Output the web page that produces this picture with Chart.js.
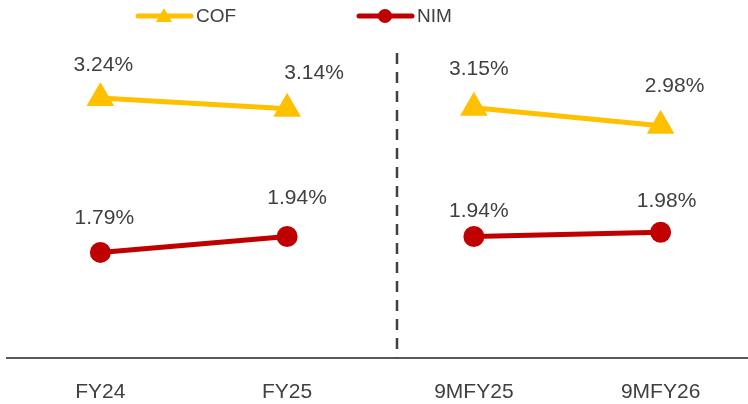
<!DOCTYPE html>
<html>
<head>
<meta charset="utf-8">
<script src="https://cdn.jsdelivr.net/npm/chart.js@4/dist/chart.umd.min.js"></script>
<style>
  html, body { margin: 0; padding: 0; background: #fff; overflow: hidden; }
  /* a few px wider than the window so the last category's half-slot runs off the edge */
  #wrap { width: 754px; height: 404px; position: relative; }
</style>
</head>
<body>
<div id="wrap"><canvas id="rateChart"></canvas></div>
<script>
// === Data ===
const periods = ['FY24', 'FY25', '9MFY25', '9MFY26'];
const cofValues = [3.24, 3.14, 3.15, 2.98];
const nimValues = [1.79, 1.94, 1.94, 1.98];

const COF_COLOR = '#FFC000';
const NIM_COLOR = '#C00000';
const TEXT_COLOR = '#404040';
const FONT = '"Liberation Sans", Arial, sans-serif';

// hand-placed label nudges [dx, dy] per dataset / point
const labelNudge = [
  [[3, -33], [27, -36], [5, -38], [14, -40]],
  [[4, -34], [10, -38], [5, -25], [6, -31]]
];

// no line between FY25 and 9MFY25 (different periods)
const breakSegment = {
  borderColor: ctx => ctx.p0DataIndex === 1 ? 'rgba(0,0,0,0)' : undefined
};

// === Labels, divider and legend ===
const extrasPlugin = {
  id: 'extras',
  afterDatasetsDraw(chart) {
    const ctx = chart.ctx;
    const x = chart.scales.x;
    const area = chart.chartArea;

    // dashed divider between full years and 9M
    const step = x.getPixelForValue(2) - x.getPixelForValue(1);
    const dx = Math.round(x.getPixelForValue(1) + step * 0.59);
    ctx.save();
    ctx.strokeStyle = TEXT_COLOR;
    ctx.lineWidth = 2.5;
    ctx.setLineDash([11, 8]);
    ctx.beginPath();
    ctx.moveTo(dx, 53);
    ctx.lineTo(dx, area.bottom);
    ctx.stroke();
    ctx.restore();

    // value labels
    ctx.save();
    ctx.font = '21px ' + FONT;
    ctx.fillStyle = TEXT_COLOR;
    ctx.textAlign = 'center';
    ctx.textBaseline = 'middle';
    chart.data.datasets.forEach((ds, i) => {
      chart.getDatasetMeta(i).data.forEach((pt, j) => {
        const [nx, ny] = labelNudge[i][j];
        ctx.fillText(ds.data[j].toFixed(2) + '%', pt.x + nx, pt.y + ny);
      });
    });
    ctx.restore();

    // legend: line with marker
    const items = [
      { text: 'COF', color: COF_COLOR, style: 'triangle', x: 138 },
      { text: 'NIM', color: NIM_COLOR, style: 'circle', x: 359 }
    ];
    const ly = 16;
    ctx.save();
    items.forEach(it => {
      ctx.strokeStyle = it.color;
      ctx.fillStyle = it.color;
      ctx.lineWidth = 5;
      ctx.lineCap = 'round';
      ctx.beginPath();
      ctx.moveTo(it.x, ly);
      ctx.lineTo(it.x + 53, ly);
      ctx.stroke();
      const cx = it.x + 26;
      ctx.beginPath();
      if (it.style === 'triangle') {
        ctx.moveTo(cx, ly - 8);
        ctx.lineTo(cx + 8, ly + 6);
        ctx.lineTo(cx - 8, ly + 6);
        ctx.closePath();
      } else {
        ctx.arc(cx, ly, 7, 0, Math.PI * 2);
      }
      ctx.fill();
      ctx.fillStyle = TEXT_COLOR;
      ctx.font = '19px ' + FONT;
      ctx.textAlign = 'left';
      ctx.textBaseline = 'middle';
      ctx.fillText(it.text, it.x + 58, ly + 1);
    });
    ctx.restore();
  }
};

new Chart(document.getElementById('rateChart'), {
  type: 'line',
  data: {
    labels: periods,
    datasets: [
      {
        label: 'COF',
        data: cofValues,
        borderColor: COF_COLOR,
        backgroundColor: COF_COLOR,
        borderWidth: 5,
        pointStyle: 'triangle',
        pointRadius: 11,
        pointHoverRadius: 11,
        segment: breakSegment
      },
      {
        label: 'NIM',
        data: nimValues,
        borderColor: NIM_COLOR,
        backgroundColor: NIM_COLOR,
        borderWidth: 5,
        pointStyle: 'circle',
        pointRadius: 8,
        pointHoverRadius: 8,
        segment: breakSegment
      }
    ]
  },
  options: {
    responsive: true,
    maintainAspectRatio: false,
    animation: false,
    layout: { autoPadding: false, padding: { top: 30, left: 7, right: 0, bottom: -15 } },
    plugins: {
      legend: { display: false },
      tooltip: { enabled: false }
    },
    scales: {
      x: {
        offset: true,
        grid: { display: false },
        border: { display: true, color: '#595959', width: 2 },
        ticks: {
          color: TEXT_COLOR,
          padding: 14,
          font: { size: 21, family: FONT }
        }
      },
      y: {
        display: false,
        min: 0.8,
        max: 3.88
      }
    }
  },
  plugins: [extrasPlugin]
});
</script>
</body>
</html>
